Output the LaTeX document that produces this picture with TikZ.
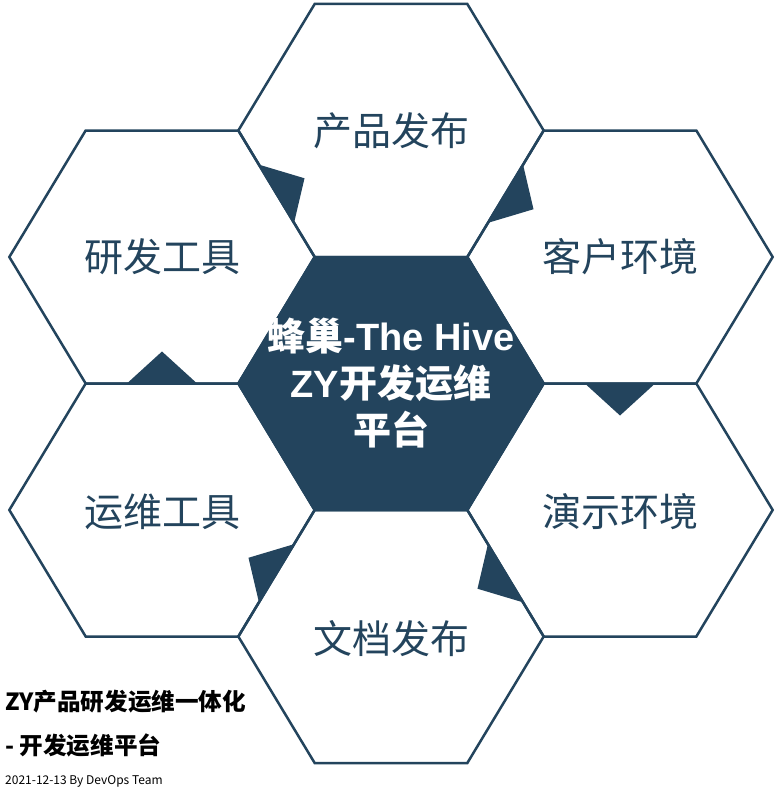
\documentclass[tikz,border=0pt]{standalone}
\usepackage{fontspec}
\usetikzlibrary{calc}
\newfontfamily\cjk{Noto Sans CJK SC}
\newfontfamily\arialf{Liberation Sans}
\definecolor{hive}{HTML}{23445D}
\tikzset{
  hexline/.style={draw=hive, line width=2.5pt, line join=miter},
  hexlabel/.style={font=\cjk\fontsize{39}{46}\selectfont, text=hive, inner sep=0pt},
  corelabel/.style={font=\bfseries\fontsize{38}{47}\selectfont, text=white, align=center, inner sep=0pt},
  notebold/.style={anchor=west, font=\cjk\bfseries\fontsize{23.6}{27}\selectfont, text=black, inner sep=0pt},
  notesmall/.style={anchor=west, font=\cjk\fontsize{12}{14}\selectfont, text=black, inner sep=0pt},
  flowmark/.style={fill=hive}
}
\newcommand\drawhex[2][]{\path[hexline,#1] ($(#2)+(-152.67,0)$) -- ($(#2)+(-76.33,-126.5)$) -- ($(#2)+(76.33,-126.5)$) -- ($(#2)+(152.67,0)$) -- ($(#2)+(76.33,126.5)$) -- ($(#2)+(-76.33,126.5)$) -- cycle;}
\newcommand\flowtri[3]{\fill[flowmark] ($(#1)!0.27!(#2)$) -- ($(#1)!0.73!(#2)$) -- ($($(#1)!0.5!(#2)$)!32pt!(#3)$) -- cycle;}
\begin{document}
\begin{tikzpicture}[x=1pt,y=-1pt]
\useasboundingbox (0,0) rectangle (779,792);
\fill[white] (0,0) rectangle (779,792);
% centers
\coordinate (cT) at (391,130.5);
\coordinate (cLT) at (162,257);
\coordinate (cRT) at (620,257);
\coordinate (cC) at (391,383.5);
\coordinate (cLB) at (162,510);
\coordinate (cRB) at (620,510);
\coordinate (cB) at (391,636.5);
% hexagons
\drawhex{cT}
\drawhex{cLT}
\drawhex{cRT}
\drawhex{cLB}
\drawhex{cRB}
\drawhex{cB}
\drawhex[fill=hive]{cC}
% shared edges
\coordinate (e1a) at (238.33,130.5); \coordinate (e1b) at (314.67,257);
\coordinate (e2a) at (467.33,257);   \coordinate (e2b) at (543.67,130.5);
\coordinate (e3a) at (543.67,383.5); \coordinate (e3b) at (696.33,383.5);
\coordinate (e4a) at (467.33,510);   \coordinate (e4b) at (543.67,636.5);
\coordinate (e5a) at (314.67,510);   \coordinate (e5b) at (238.33,636.5);
\coordinate (e6a) at (85.67,383.5);  \coordinate (e6b) at (238.33,383.5);
\flowtri{e1a}{e1b}{cT}
\flowtri{e2a}{e2b}{cRT}
\flowtri{e3a}{e3b}{cRB}
\flowtri{e4a}{e4b}{cB}
\flowtri{e5a}{e5b}{cLB}
\flowtri{e6a}{e6b}{cLT}
% labels
\node[hexlabel] (nT) at (cT) {产品发布};
\node[hexlabel] (nLT) at (cLT) {研发工具};
\node[hexlabel] (nRT) at (cRT) {客户环境};
\node[hexlabel] (nLB) at ([yshift=-2pt]cLB) {运维工具};
\node[hexlabel] (nRB) at ([yshift=-2pt]cRB) {演示环境};
\node[hexlabel] (nB) at ([yshift=-2pt]cB) {文档发布};
\node[corelabel] (nC) at (cC) {{\cjk 蜂巢}{\arialf -The Hive}\\{\arialf ZY}{\cjk 开发运维}\\{\cjk 平台}};
% notes
\node[notebold] (t1) at (5,702) {ZY产品研发运维一体化};
\node[notebold] (t2) at (5,745) {- 开发运维平台};
\node[notesmall] (t3) at (5,781) {2021-12-13 By DevOps Team};
\end{tikzpicture}
\end{document}
